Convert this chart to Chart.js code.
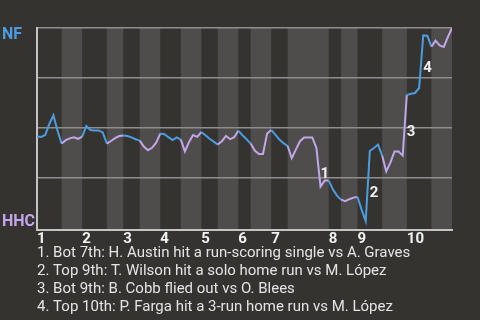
<!DOCTYPE html>
<html>
<head>
<meta charset="utf-8">
<script src="https://cdn.jsdelivr.net/npm/chart.js@4.4.1/dist/chart.umd.min.js"></script>
<style>
  html, body { margin: 0; padding: 0; background: #353330; }
  #wrap { width: 480px; height: 320px; position: relative; }
</style>
</head>
<body>
<div id="wrap"><canvas id="wpChart" width="480" height="320"></canvas></div>
<script>
// データ
const innings = ['1', '2', '3', '4', '5', '6', '7', '8', '9', '10'];
// 各ハーフイニングの開始位置（打席番号）。偶数番目が表、奇数番目が裏
const halfStarts = [0, 6, 11, 17, 21, 25, 30, 35, 40, 44, 49, 52, 57, 61, 71, 74, 78, 84, 90, 96];
const lastEvent = 101;
// NF の勝率（打席ごと）
const winProb = [
  0.457, 0.455, 0.465, 0.52, 0.563, 0.486, 0.422, 0.439, 0.448, 0.454,
  0.446, 0.457, 0.51, 0.49, 0.488, 0.488, 0.478, 0.422, 0.435, 0.449,
  0.46, 0.463, 0.46, 0.453, 0.444, 0.437, 0.407, 0.389, 0.401, 0.427,
  0.472, 0.469, 0.454, 0.44, 0.453, 0.442, 0.383, 0.43, 0.465, 0.456,
  0.48, 0.464, 0.446, 0.432, 0.417, 0.434, 0.46, 0.444, 0.454, 0.487,
  0.464, 0.444, 0.422, 0.387, 0.37, 0.37, 0.472, 0.49, 0.467, 0.442,
  0.424, 0.41, 0.349, 0.392, 0.434, 0.453, 0.453, 0.453, 0.40, 0.207,
  0.237, 0.237, 0.194, 0.162, 0.142, 0.134, 0.144, 0.152, 0.155, 0.092,
  0.035, 0.385, 0.40, 0.417, 0.362, 0.283, 0.327, 0.382, 0.382, 0.362,
  0.665, 0.671, 0.675, 0.70, 0.963, 0.961, 0.907, 0.937, 0.913, 0.905,
  0.955, 1.0
];
const teams = ['NF', 'HHC'];
const keyEvents = [69, 81, 90, 94];
const notes = [
  '1. Bot 7th: H. Austin hit a run-scoring single vs A. Graves',
  '2. Top 9th: T. Wilson hit a solo home run vs M. López',
  '3. Bot 9th: B. Cobb flied out vs O. Blees',
  '4. Top 10th: P. Farga hit a 3-run home run vs M. López'
];

const BLUE = '#4a9de0';
const PURPLE = '#c2a6ea';
const BG = '#353330';
const BAND = '#4e4d4b';
const FONT = 'Roboto, "Noto Sans", sans-serif';

const inningStarts = halfStarts.filter((v, i) => i % 2 === 0);

// 表（NF攻撃）かどうか
function isTopHalf(x) {
  let idx = 0;
  halfStarts.forEach((s, i) => { if (x >= s) idx = i; });
  return idx % 2 === 0;
}

// 背景とハーフイニングの帯
const bandPlugin = {
  id: 'bands',
  beforeDraw(chart) {
    const { ctx, chartArea, scales } = chart;
    ctx.save();
    ctx.fillStyle = BG;
    ctx.fillRect(0, 0, chart.width, chart.height);
    ctx.fillStyle = BAND;
    halfStarts.forEach((s, i) => {
      if (i % 2 === 0) return;
      const end = i + 1 < halfStarts.length ? halfStarts[i + 1] : lastEvent;
      const x0 = scales.x.getPixelForValue(s);
      const x1 = scales.x.getPixelForValue(end);
      ctx.fillRect(x0, chartArea.top, x1 - x0, chartArea.bottom - chartArea.top);
    });
    ctx.restore();
  }
};

// チーム名・注記番号・脚注
const textPlugin = {
  id: 'texts',
  afterDraw(chart) {
    const { ctx, chartArea, scales } = chart;
    ctx.save();
    ctx.textBaseline = 'middle';
    ctx.textAlign = 'left';
    ctx.font = 'bold 16px ' + FONT;
    ctx.fillStyle = BLUE;
    ctx.fillText(teams[0], 2, chartArea.top + 7);
    ctx.fillStyle = PURPLE;
    ctx.fillText(teams[1], 2, chartArea.bottom - 8);

    ctx.font = 'bold 15px ' + FONT;
    ctx.fillStyle = '#f0f0f0';
    keyEvents.forEach((e, i) => {
      const x = scales.x.getPixelForValue(e);
      const yA = scales.y.getPixelForValue(winProb[e - 1]);
      const yB = scales.y.getPixelForValue(winProb[e]);
      ctx.fillText(String(i + 1), x, (yA + yB) / 2 + 7);
    });

    ctx.font = '15px ' + FONT;
    ctx.fillStyle = '#e4e4e4';
    notes.forEach((t, i) => {
      ctx.fillText(t, 37, 253 + i * 18);
    });
    ctx.restore();
  }
};

const ctx = document.getElementById('wpChart').getContext('2d');
new Chart(ctx, {
  type: 'line',
  data: {
    datasets: [{
      data: winProb.map((v, i) => ({ x: i, y: v })),
      borderWidth: 2,
      pointRadius: 0,
      tension: 0,
      borderColor: BLUE,
      segment: {
        borderColor: c => isTopHalf(c.p0.parsed.x) ? BLUE : PURPLE
      }
    }]
  },
  options: {
    responsive: false,
    animation: false,
    layout: { padding: { left: 37, right: 28, top: 28, bottom: 72 } },
    plugins: { legend: { display: false }, tooltip: { enabled: false } },
    scales: {
      x: {
        type: 'linear',
        min: 0,
        max: lastEvent,
        afterBuildTicks: s => { s.ticks = inningStarts.map(v => ({ value: v })); },
        ticks: {
          align: 'start',
          padding: 0,
          color: '#f2f2f2',
          font: { family: FONT, size: 15, weight: 'bold' },
          callback: v => innings[inningStarts.indexOf(v)]
        },
        grid: { display: false, drawTicks: false },
        border: { display: true, color: '#c4c4c4', width: 2 }
      },
      y: {
        min: -0.01,
        max: 1,
        afterBuildTicks: s => { s.ticks = [0.25, 0.5, 0.75, 1].map(v => ({ value: v })); },
        ticks: { display: false },
        grid: { color: '#8e8e8e', lineWidth: 1.5, drawTicks: false },
        border: { display: true, color: '#c4c4c4', width: 2 }
      }
    }
  },
  plugins: [bandPlugin, textPlugin]
});
</script>
</body>
</html>
